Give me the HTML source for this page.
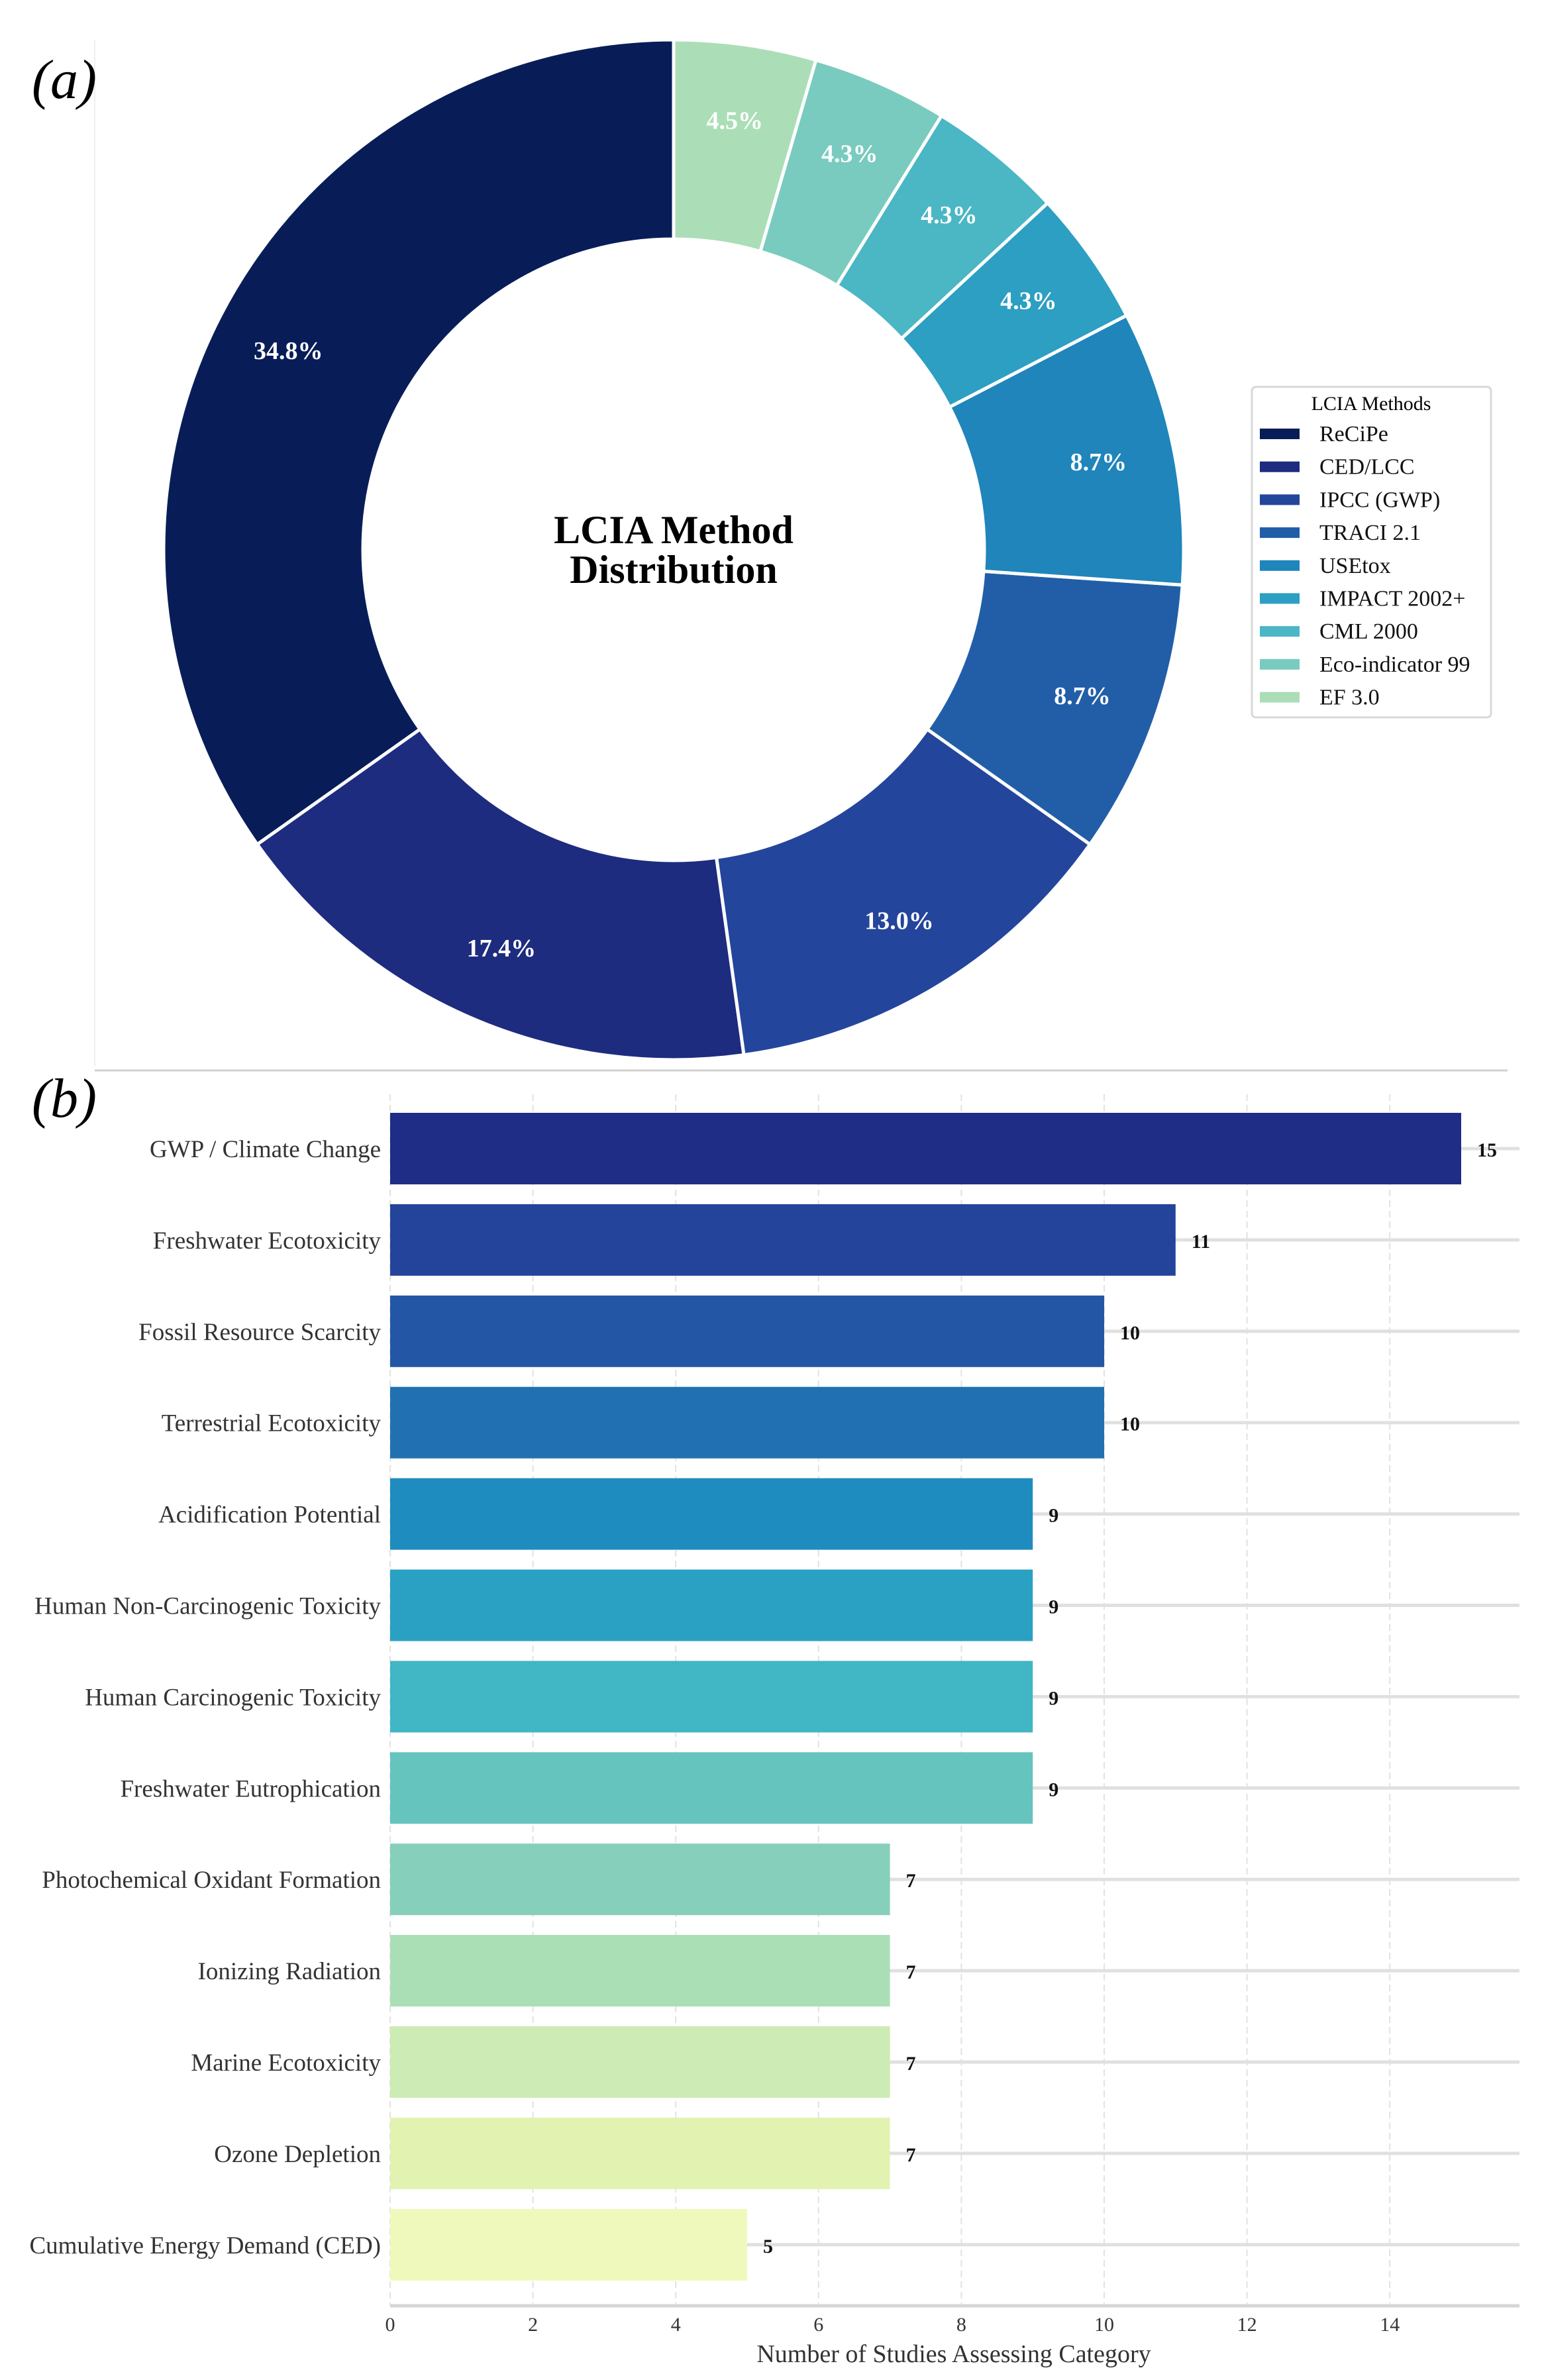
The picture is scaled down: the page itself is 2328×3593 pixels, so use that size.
<!DOCTYPE html>
<html><head><meta charset="utf-8"><style>
body{margin:0;background:#fff}
svg{display:block;font-family:"Liberation Serif",serif}
</style></head><body>
<svg id="chart" width="2328" height="3593" viewBox="0 0 2328 3593">
<line x1="143" y1="60" x2="143" y2="1610" stroke="#f0f0f0" stroke-width="2"/>
<text x="48" y="148" font-size="84" font-style="italic">(a)</text>
<line x1="143" y1="1616" x2="2276" y2="1616" stroke="#d0d0d0" stroke-width="3"/>
<text x="48" y="1686" font-size="84" font-style="italic">(b)</text>
<g id="donut"></g>
<text x="1017" y="820" font-size="60" font-weight="bold" text-anchor="middle">LCIA Method</text>
<text x="1017" y="880" font-size="60" font-weight="bold" text-anchor="middle">Distribution</text>
<g id="legend">
<rect x="1890" y="584" width="361" height="499" rx="6" fill="#fff" stroke="#d8d8d8" stroke-width="3"/>
<text x="2070" y="619" font-size="30" text-anchor="middle">LCIA Methods</text>
</g>
<g id="bars"></g>
<text x="1440" y="3566" font-size="38" text-anchor="middle" fill="#333">Number of Studies Assessing Category</text>
</svg>
<script>
const methods=["ReCiPe","CED/LCC","IPCC (GWP)","TRACI 2.1","USEtox","IMPACT 2002+","CML 2000","Eco-indicator 99","EF 3.0"];
const shares=[34.8,17.4,13.0,8.7,8.7,4.3,4.3,4.3,4.5];
const shareLabels=["34.8%","17.4%","13.0%","8.7%","8.7%","4.3%","4.3%","4.3%","4.5%"];
const methodColors=["#081d58","#1d2c7f","#24459c","#225ea8","#1f85bb","#2c9fc2","#4bb6c4","#79cbbf","#abdeb7"];
const categories=["GWP / Climate Change","Freshwater Ecotoxicity","Fossil Resource Scarcity","Terrestrial Ecotoxicity","Acidification Potential","Human Non-Carcinogenic Toxicity","Human Carcinogenic Toxicity","Freshwater Eutrophication","Photochemical Oxidant Formation","Ionizing Radiation","Marine Ecotoxicity","Ozone Depletion","Cumulative Energy Demand (CED)"];
const counts=[15,11,10,10,9,9,9,9,7,7,7,7,5];
const barColors=["#1f2d86","#23449a","#2357a5","#2171b2","#1e8cbe","#2aa0c3","#41b6c4","#66c4bf","#86cfba","#aadfb6","#cdebb4","#e2f3b1","#eff9bc"];
const ticks=[0,2,4,6,8,10,12,14];
const NS="http://www.w3.org/2000/svg";
function mk(tag,attrs,parent){const e=document.createElementNS(NS,tag);for(const k in attrs)e.setAttribute(k,attrs[k]);parent.appendChild(e);return e;}
const cx=1017,cy=830,R=770,r=469,LR=655;
const total=shares.reduce((a,b)=>a+b,0);
const donut=document.getElementById('donut');
function pt(rad,ang){return [cx+rad*Math.sin(ang),cy-rad*Math.cos(ang)];}
let a0=0;
shares.forEach((s,i)=>{
 const a1=a0-s/total*2*Math.PI;
 const [x0,y0]=pt(R,a0),[x1,y1]=pt(R,a1),[x2,y2]=pt(r,a1),[x3,y3]=pt(r,a0);
 const large=(a0-a1)>Math.PI?1:0;
 const p=mk('path',{d:`M${x0},${y0} A${R},${R} 0 ${large} 0 ${x1},${y1} L${x2},${y2} A${r},${r} 0 ${large} 1 ${x3},${y3} Z`,fill:methodColors[i],stroke:'#fff','stroke-width':5},donut);
 
 
 const am=(a0+a1)/2;const [lx,ly]=pt(LR,am);
 const t=mk('text',{x:lx,y:ly+13,'font-size':38,'font-weight':'bold',fill:'#fff','text-anchor':'middle'},donut);
 t.textContent=shareLabels[i];
 
 
 a0=a1;
});
const lg=document.getElementById('legend');
methods.forEach((m,i)=>{
 const y=655+i*49.7;
 const sw=mk('rect',{x:1902,y:y-8,width:60,height:16,fill:methodColors[i]},lg);
 
 
 const t=mk('text',{x:1992,y:y+11,'font-size':34,fill:'#111'},lg);
 t.textContent=m;
 
 
});
const bg=document.getElementById('bars');
const X0=589,UNIT=107.8,TOP=1680,PITCH=137.9,BH=108,AXY=3481,XEND=2294;
const xs=v=>X0+v*UNIT;
ticks.forEach(v=>{
 const g=mk('line',{x1:xs(v),y1:1652,x2:xs(v),y2:AXY,stroke:'#e2e2e2','stroke-width':2,'stroke-dasharray':'10,6'},bg);
 
 
 const t=mk('text',{x:xs(v),y:3519,'font-size':30,'text-anchor':'middle',fill:'#333'},bg);
 t.textContent=v;
 
 
});
categories.forEach((c,i)=>{
 const y=TOP+i*PITCH,yc=y+BH/2;
 const hl=mk('line',{x1:X0,y1:yc,x2:XEND,y2:yc,stroke:'#e0e0e0','stroke-width':5},bg);
 
 
 const b=mk('rect',{x:X0,y:y,width:xs(counts[i])-X0,height:BH,fill:barColors[i]},bg);
 
 
 const l=mk('text',{x:X0-14,y:yc+13,'font-size':37,'text-anchor':'end',fill:'#333'},bg);
 l.textContent=c;
 
 
 const v=mk('text',{x:xs(counts[i])+24,y:yc+12,'font-size':30,'font-weight':'bold',fill:'#111'},bg);
 v.textContent=counts[i];
 
 
});
const ax=mk('line',{x1:X0,y1:AXY,x2:XEND,y2:AXY,stroke:'#d6d6d6','stroke-width':5},bg);


</script>
</body></html>
